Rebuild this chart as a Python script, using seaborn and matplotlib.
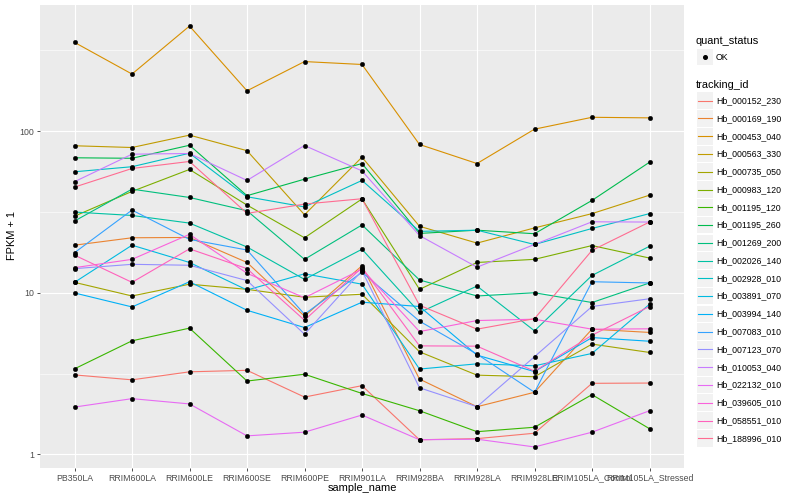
import numpy as np
import pandas as pd
import matplotlib
matplotlib.use("Agg")
import matplotlib.pyplot as plt
import matplotlib.ticker as mticker
from matplotlib.lines import Line2D
from matplotlib.patches import Rectangle
import seaborn as sns

# ---------------- data ----------------
samples = ["PB350LA", "RRIM600LA", "RRIM600LE", "RRIM600SE", "RRIM600PE",
           "RRIM901LA", "RRIM928BA", "RRIM928LA", "RRIM928LE",
           "RRIM105LA_Control", "RRIM105LA_Stressed"]

tracking_ids = ["Hb_000152_230", "Hb_000169_190", "Hb_000453_040", "Hb_000563_330",
                "Hb_000735_050", "Hb_000983_120", "Hb_001195_120", "Hb_001195_260",
                "Hb_001269_200", "Hb_002026_140", "Hb_002928_010", "Hb_003891_070",
                "Hb_003994_140", "Hb_007083_010", "Hb_007123_070", "Hb_010053_040",
                "Hb_022132_010", "Hb_039605_010", "Hb_058551_010", "Hb_188996_010"]

# FPKM + 1 values, one list per gene, in sample order
Hb_000152_230 = [3.10, 2.89, 3.24, 3.31, 2.26, 2.66, 1.23, 1.25, 1.35, 2.75, 2.76]
Hb_000169_190 = [19.7, 21.9, 22.0, 15.4, 7.16, 14.7, 2.92, 1.97, 2.42, 5.95, 5.68]
Hb_000453_040 = [355, 226, 448, 178, 270, 259, 82.8, 63.1, 103, 122, 121]
Hb_000563_330 = [81.3, 79.3, 94.6, 75.8, 30.4, 69.1, 25.8, 20.3, 25.2, 30.9, 40.2]
Hb_000735_050 = [11.6, 9.55, 11.3, 10.5, 9.38, 9.79, 4.31, 3.09, 3.02, 4.81, 4.27]
Hb_000983_120 = [29.8, 42.4, 58.0, 34.9, 21.9, 38.1, 10.5, 15.4, 16.1, 19.6, 16.4]
Hb_001195_120 = [3.38, 5.04, 6.04, 2.84, 3.13, 2.38, 1.86, 1.38, 1.47, 2.34, 1.44]
Hb_001195_260 = [68.5, 68.0, 81.9, 39.9, 50.5, 63.1, 23.3, 24.4, 23.2, 37.3, 64.3]
Hb_001269_200 = [27.8, 43.8, 38.9, 32.2, 16.1, 26.3, 12.0, 9.55, 10.0, 8.70, 11.5]
Hb_002026_140 = [31.6, 30.1, 27.0, 19.2, 12.1, 18.6, 7.55, 11.0, 5.81, 12.8, 19.4]
Hb_002928_010 = [56.1, 60.3, 73.1, 39.3, 34.0, 49.6, 24.0, 24.4, 19.9, 25.0, 30.9]
Hb_003891_070 = [11.6, 19.7, 15.4, 10.4, 13.1, 11.3, 3.37, 3.63, 3.53, 4.21, 8.49]
Hb_003994_140 = [9.97, 8.17, 11.7, 7.79, 6.09, 8.74, 8.22, 4.11, 3.25, 5.28, 5.01]
Hb_007083_010 = [17.7, 32.5, 21.4, 18.4, 7.36, 13.4, 6.67, 4.17, 2.42, 11.7, 11.5]
Hb_007123_070 = [14.1, 15.0, 14.8, 11.9, 5.54, 13.7, 2.58, 1.97, 4.02, 8.22, 9.18]
Hb_010053_040 = [48.7, 72.1, 72.8, 49.6, 81.6, 56.8, 22.6, 14.4, 19.9, 27.5, 27.4]
Hb_022132_010 = [1.96, 2.21, 2.05, 1.30, 1.37, 1.75, 1.23, 1.24, 1.11, 1.37, 1.86]
Hb_039605_010 = [14.3, 16.1, 23.0, 13.2, 9.31, 14.0, 5.75, 6.73, 6.86, 5.95, 5.98]
Hb_058551_010 = [17.1, 11.6, 18.7, 14.1, 6.76, 14.3, 4.69, 4.67, 3.27, 5.46, 8.22]
Hb_188996_010 = [45.1, 58.8, 65.0, 31.0, 35.4, 38.2, 8.37, 5.95, 6.91, 18.3, 27.4]

series = [Hb_000152_230, Hb_000169_190, Hb_000453_040, Hb_000563_330, Hb_000735_050,
          Hb_000983_120, Hb_001195_120, Hb_001195_260, Hb_001269_200, Hb_002026_140,
          Hb_002928_010, Hb_003891_070, Hb_003994_140, Hb_007083_010, Hb_007123_070,
          Hb_010053_040, Hb_022132_010, Hb_039605_010, Hb_058551_010, Hb_188996_010]

quant_status = "OK"

rows = []
for tid, vals in zip(tracking_ids, series):
    for s, v in zip(samples, vals):
        rows.append({"tracking_id": tid, "sample_name": s, "fpkm1": v,
                     "quant_status": quant_status})
df = pd.DataFrame(rows)
df["sample_name"] = pd.Categorical(df["sample_name"], categories=samples, ordered=True)
df["xpos"] = df["sample_name"].cat.codes

# ggplot2 default hue palette (20 levels)
colors = ["#F8766D", "#EA8331", "#D89000", "#C09B00", "#A3A500", "#7CAE00", "#39B600",
          "#00BB4E", "#00BF7D", "#00C1A3", "#00BFC4", "#00BAE0", "#00B0F6", "#35A2FF",
          "#9590FF", "#C77CFF", "#E76BF3", "#FA62DB", "#FF62BC", "#FF6C91"]
palette = dict(zip(tracking_ids, colors))

# ---------------- style ----------------
plt.rcParams["font.family"] = ["Liberation Sans", "DejaVu Sans"]

W, H = 800, 500
fig = plt.figure(figsize=(8, 5), dpi=100)
px_l, px_r, px_t, px_b = 40, 684, 5, 468
ax = fig.add_axes([px_l / W, 1 - px_b / H, (px_r - px_l) / W, (px_b - px_t) / H])
ax.set_facecolor("#EBEBEB")
for sp in ax.spines.values():
    sp.set_visible(False)

sns.lineplot(data=df, x="xpos", y="fpkm1", hue="tracking_id", palette=palette,
             hue_order=tracking_ids, estimator=None, sort=False, legend=False,
             linewidth=0.8, ax=ax, zorder=2)
sns.scatterplot(data=df, x="xpos", y="fpkm1", color="black", s=11, marker="o",
                edgecolor="black", linewidth=0.2, legend=False, ax=ax, zorder=3)

ax.set_yscale("log")
lo = np.log10(df["fpkm1"].min())
hi = np.log10(df["fpkm1"].max())
r = hi - lo
ax.set_ylim(10 ** (lo - 0.05 * r), 10 ** (hi + 0.05 * r))
ax.set_xlim(-0.6, len(samples) - 1 + 0.6)

ax.yaxis.set_major_locator(mticker.FixedLocator([1, 10, 100]))
ax.yaxis.set_major_formatter(mticker.FixedFormatter(["1", "10", "100"]))
ax.yaxis.set_minor_locator(mticker.FixedLocator([10 ** 0.5, 10 ** 1.5, 10 ** 2.5]))
ax.yaxis.set_minor_formatter(mticker.NullFormatter())
ax.set_xticks(range(len(samples)))
ax.set_xticklabels(samples)

ax.grid(which="major", color="white", linewidth=0.8)
ax.grid(which="minor", axis="y", color="white", linewidth=0.4)
ax.set_axisbelow(True)
ax.tick_params(which="major", length=2.5, width=0.6, color="#333333",
               labelsize=6.3, labelcolor="#4D4D4D", pad=1.5)
ax.tick_params(which="minor", length=0)
ax.set_xlabel("")
ax.set_ylabel("")

fig.text(362 / W, 1 - 488 / H, "sample_name", fontsize=7.9, ha="center", va="center")
fig.text(12 / W, 1 - 236 / H, "FPKM + 1", fontsize=7.9, ha="center", va="center",
         rotation=90)

# ---------------- legend (ggplot-like) ----------------
def fx(p):
    return p / W


def fy(p):
    return 1 - p / H


fig.text(fx(696), fy(41), "quant_status", fontsize=7.9, ha="left", va="center")
fig.add_artist(Rectangle((fx(697), fy(65)), 16 / W, 16 / H, transform=fig.transFigure,
                         facecolor="#F2F2F2", edgecolor="none"))
fig.add_artist(Line2D([fx(705)], [fy(57)], marker="o", markersize=2.6, color="black",
                      transform=fig.transFigure))
fig.text(fx(716), fy(57), quant_status, fontsize=6.3, ha="left", va="center")

fig.text(fx(696), fy(85), "tracking_id", fontsize=7.9, ha="left", va="center")
y0, dy = 100.7, 17.77
for i, (tid, c) in enumerate(zip(tracking_ids, colors)):
    yc = y0 + i * dy
    fig.add_artist(Rectangle((fx(697), fy(yc + 8.3)), 16 / W, 16.6 / H,
                             transform=fig.transFigure, facecolor="#F2F2F2",
                             edgecolor="none"))
    fig.add_artist(Line2D([fx(698), fx(712)], [fy(yc), fy(yc)], color=c, linewidth=0.8,
                          transform=fig.transFigure))
    fig.text(fx(716), fy(yc), tid, fontsize=6.3, ha="left", va="center")

fig.savefig("out.png", dpi=100)
